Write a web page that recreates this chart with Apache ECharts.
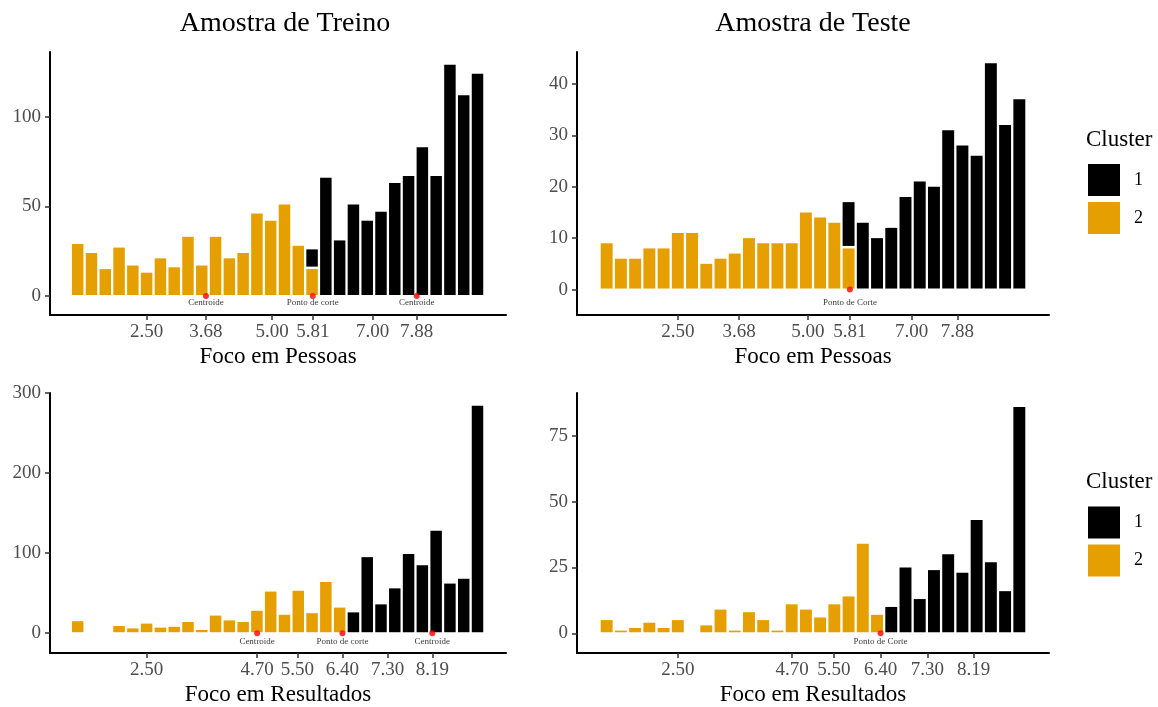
<!DOCTYPE html>
<html>
<head>
<meta charset="utf-8">
<script src="https://cdn.jsdelivr.net/npm/echarts@6/dist/echarts.min.js"></script>
<style>
  html, body { margin: 0; padding: 0; background: #fff; }
  #chart { width: 1158px; height: 707px; }
</style>
</head>
<body>
<div id="chart"></div>
<script>
// histogram bins: 30 per sample
var treinoBinStart = 0.9875, treinoBinWidth = 0.2747;
var testeBinStart = 0.993, testeBinWidth = 0.2738;

// Amostra de Treino - Foco em Pessoas
var treinoPessoasC1 = [0,0,0,0,0,0,0,0,0,0,0,0,0,0,0,0,0,11,66,31,51,42,47,63,67,83,67,129,112,124];
var treinoPessoasC2 = [29,24,15,27,17,13,21,16,33,17,33,21,24,46,42,51,28,15,0,0,0,0,0,0,0,0,0,0,0,0];
// Amostra de Teste - Foco em Pessoas
var testePessoasC1 = [0,0,0,0,0,0,0,0,0,0,0,0,0,0,0,0,0,9,13,10,12,18,21,20,31,28,26,44,32,37];
var testePessoasC2 = [9,6,6,8,8,11,11,5,6,7,10,9,9,9,15,14,13,8,0,0,0,0,0,0,0,0,0,0,0,0];
// Amostra de Treino - Foco em Resultados
var treinoResultadosC1 = [0,0,0,0,0,0,0,0,0,0,0,0,0,0,0,0,0,0,0,0,26,95,36,56,99,85,128,62,68,284];
var treinoResultadosC2 = [15,0,0,9,6,12,7,8,14,4,22,16,14,28,52,23,53,25,64,32,0,0,0,0,0,0,0,0,0,0];
// Amostra de Teste - Foco em Resultados
var testeResultadosC1 = [0,0,0,0,0,0,0,0,0,0,0,0,0,0,0,0,0,0,0,0,10,25,13,24,30,23,43,27,16,86];
var testeResultadosC2 = [5,1,2,4,2,5,0,3,9,1,8,5,1,11,9,6,11,14,34,7,0,0,0,0,0,0,0,0,0,0];

// tick labels
var pessoasTicks = [2.50, 3.68, 5.00, 5.81, 7.00, 7.88];
var resultadosTicks = [2.50, 4.70, 5.50, 6.40, 7.30, 8.19];
var treinoPessoasY = [0, 50, 100];
var testePessoasY = [0, 10, 20, 30, 40];
var treinoResultadosY = [0, 100, 200, 300];
var testeResultadosY = [0, 25, 50, 75];

// centroids and cut points
var treinoPessoasMarks = [3.68, 5.81, 7.88];
var treinoPessoasMarkNames = ['Centroide', 'Ponto de corte', 'Centroide'];
var testePessoasMarks = [5.81];
var testePessoasMarkNames = ['Ponto de Corte'];
var treinoResultadosMarks = [4.70, 6.40, 8.19];
var treinoResultadosMarkNames = ['Centroide', 'Ponto de corte', 'Centroide'];
var testeResultadosMarks = [6.40];
var testeResultadosMarkNames = ['Ponto de Corte'];

var FONT = 'Liberation Serif';
var ORANGE = '#E69F00';

var panels = [
  { c1: treinoPessoasC1, c2: treinoPessoasC2, start: treinoBinStart, w: treinoBinWidth,
    xTicks: pessoasTicks, yTicks: treinoPessoasY, marks: treinoPessoasMarks, names: treinoPessoasMarkNames,
    name: 'Foco em Pessoas', grid: { left: 50, top: 52, width: 456, height: 263 },
    xMin: 0.573, xMax: 9.659, yMin: -10.6, yMax: 136.1, textY: -3.7 },
  { c1: testePessoasC1, c2: testePessoasC2, start: testeBinStart, w: testeBinWidth,
    xTicks: pessoasTicks, yTicks: testePessoasY, marks: testePessoasMarks, names: testePessoasMarkNames,
    name: 'Foco em Pessoas', grid: { left: 577, top: 52, width: 472, height: 263 },
    xMin: 0.559, xMax: 9.641, yMin: -4.95, yMax: 46.2, textY: -2.6 },
  { c1: treinoResultadosC1, c2: treinoResultadosC2, start: treinoBinStart, w: treinoBinWidth,
    xTicks: resultadosTicks, yTicks: treinoResultadosY, marks: treinoResultadosMarks, names: treinoResultadosMarkNames,
    name: 'Foco em Resultados', grid: { left: 50, top: 393, width: 456, height: 263 },
    xMin: 0.573, xMax: 9.659, yMin: -24.7, yMax: 300, textY: -10.2 },
  { c1: testeResultadosC1, c2: testeResultadosC2, start: testeBinStart, w: testeBinWidth,
    xTicks: resultadosTicks, yTicks: testeResultadosY, marks: testeResultadosMarks, names: testeResultadosMarkNames,
    name: 'Foco em Resultados', grid: { left: 577, top: 393, width: 472, height: 263 },
    xMin: 0.559, xMax: 9.641, yMin: -7.5, yMax: 91.3, textY: -3.1 }
];

// bar with a thin white gap on the sides and below (like a white outline)
function renderBar(params, api) {
  var p0 = api.coord([api.value(0), api.value(2)]);
  var p1 = api.coord([api.value(1), api.value(3)]);
  var gapBelow = api.value(2) > 0 ? 2.5 : 1;
  var x = p0[0] + 1.15, w = p1[0] - p0[0] - 2.3;
  var top = p1[1], bottom = p0[1] - gapBelow;
  return {
    type: 'rect',
    shape: { x: x, y: top, width: w, height: Math.max(bottom - top, 0.8) },
    style: { fill: api.visual('color') }
  };
}

var grids = [], xAxes = [], yAxes = [], series = [];

panels.forEach(function (p, k) {
  grids.push(p.grid);
  xAxes.push({
    gridIndex: k, type: 'value', min: p.xMin, max: p.xMax,
    name: p.name, nameLocation: 'middle', nameGap: 30,
    nameTextStyle: { fontFamily: FONT, fontSize: 23, color: '#000' },
    axisLine: { onZero: false, lineStyle: { color: '#000', width: 2 } },
    axisTick: { customValues: p.xTicks, length: 5, lineStyle: { color: '#333', width: 1.5 } },
    axisLabel: { customValues: p.xTicks, margin: 8, fontFamily: FONT, fontSize: 19, color: '#4d4d4d',
      formatter: function (v) { return v.toFixed(2); } },
    splitLine: { show: false }
  });
  yAxes.push({
    gridIndex: k, type: 'value', min: p.yMin, max: p.yMax,
    axisLine: { show: true, onZero: false, lineStyle: { color: '#000', width: 2 } },
    axisTick: { show: true, customValues: p.yTicks, length: 5, lineStyle: { color: '#333', width: 1.5 } },
    axisLabel: { customValues: p.yTicks, margin: 9, fontFamily: FONT, fontSize: 19, color: '#4d4d4d' },
    splitLine: { show: false }
  });

  var orange = [], black = [];
  for (var i = 0; i < p.c1.length; i++) {
    var lo = p.start + i * p.w, hi = lo + p.w;
    if (p.c2[i] > 0) orange.push([lo, hi, 0, p.c2[i]]);
    if (p.c1[i] > 0) black.push([lo, hi, p.c2[i], p.c2[i] + p.c1[i]]);
  }
  series.push({
    type: 'custom', name: '2', xAxisIndex: k, yAxisIndex: k,
    itemStyle: { color: ORANGE }, renderItem: renderBar,
    encode: { x: [0, 1], y: [2, 3] }, data: orange
  });
  series.push({
    type: 'custom', name: '1', xAxisIndex: k, yAxisIndex: k,
    itemStyle: { color: '#000' }, renderItem: renderBar,
    encode: { x: [0, 1], y: [2, 3] }, data: black
  });
  series.push({
    type: 'scatter', xAxisIndex: k, yAxisIndex: k, symbolSize: 6,
    itemStyle: { color: '#ff0000' }, z: 5,
    data: p.marks.map(function (m) { return [m, 0]; })
  });
  series.push({
    type: 'scatter', xAxisIndex: k, yAxisIndex: k, symbolSize: 0,
    itemStyle: { color: 'transparent' }, z: 5,
    label: { show: true, position: 'inside', fontFamily: FONT, fontSize: 9, color: '#000',
      formatter: function (d) { return d.value[2]; } },
    data: p.marks.map(function (m, j) { return [m, p.textY, p.names[j]]; })
  });
});

function legendAt(top) {
  return {
    data: ['1', '2'], orient: 'vertical', left: 1088, top: top, padding: 0,
    itemWidth: 32, itemHeight: 32, itemGap: 6, icon: 'rect', selectedMode: false,
    textStyle: { fontFamily: FONT, fontSize: 18, color: '#000', padding: [0, 0, 0, 9] }
  };
}

function label(text, x, y, size, align) {
  return { type: 'text', x: x, y: y,
    style: { text: text, fontFamily: FONT, fontSize: size, fill: '#000', align: align, verticalAlign: 'middle' } };
}

var chart = echarts.init(document.getElementById('chart'));
chart.setOption({
  animation: false,
  backgroundColor: '#fff',
  grid: grids,
  xAxis: xAxes,
  yAxis: yAxes,
  legend: [legendAt(164), legendAt(506.5)],
  graphic: [
    label('Amostra de Treino', 285, 24, 28, 'center'),
    label('Amostra de Teste', 813, 24, 28, 'center'),
    label('Cluster', 1086, 140, 23, 'left'),
    label('Cluster', 1086, 482, 23, 'left')
  ],
  series: series
});
</script>
</body>
</html>
